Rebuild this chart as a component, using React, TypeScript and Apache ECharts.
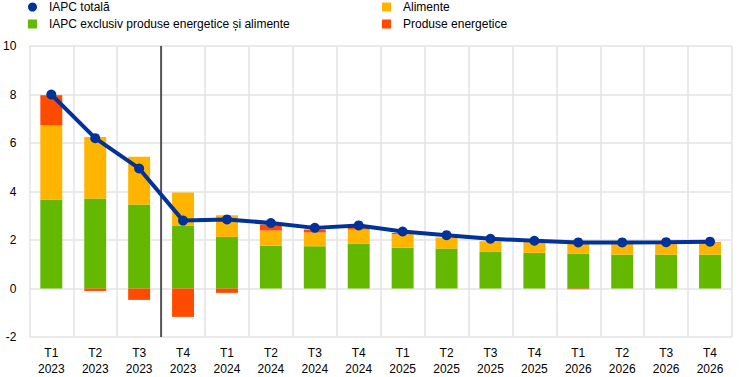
import React, { useEffect, useRef } from "react";
import * as echarts from "echarts";

const categories = [
  "T1\n2023", "T2\n2023", "T3\n2023", "T4\n2023",
  "T1\n2024", "T2\n2024", "T3\n2024", "T4\n2024",
  "T1\n2025", "T2\n2025", "T3\n2025", "T4\n2025",
  "T1\n2026", "T2\n2026", "T3\n2026", "T4\n2026",
];
const coreValues = [3.67, 3.71, 3.46, 2.58, 2.13, 1.76, 1.74, 1.84, 1.68, 1.65, 1.51, 1.47, 1.43, 1.4, 1.4, 1.4];
const foodValues = [3.06, 2.54, 1.97, 1.38, 0.89, 0.63, 0.57, 0.59, 0.56, 0.45, 0.44, 0.44, 0.41, 0.43, 0.43, 0.5];
const energyValues = [1.24, -0.1, -0.47, -1.17, -0.18, 0.25, 0.12, 0.09, 0.05, 0, 0, 0, -0.03, 0, 0, 0.02];
const headlineValues = [8.0, 6.2, 4.95, 2.8, 2.85, 2.7, 2.5, 2.6, 2.35, 2.2, 2.05, 1.97, 1.9, 1.9, 1.91, 1.93];
const dividerPosition = 2.5;
const yMin = -2;
const yMax = 10;
const yInterval = 2;

const NAME_HEADLINE = "IAPC totală";
const NAME_CORE = "IAPC exclusiv produse energetice și alimente";
const NAME_FOOD = "Alimente";
const NAME_ENERGY = "Produse energetice";

const FONT = "Liberation Sans, Arial, sans-serif";

export default function App() {
  const ref = useRef<HTMLDivElement>(null);
  useEffect(() => {
    document.body.style.margin = "0";
    const chart = echarts.init(ref.current!, null, { renderer: "svg" });
    const legendBase = {
      orient: "vertical" as const,
      itemWidth: 9,
      itemHeight: 9,
      selectedMode: false,
      textStyle: { fontSize: 12, color: "#000", fontFamily: FONT, padding: [0, 0, 0, 7], lineHeight: 14 },
      padding: 0,
    };
    chart.setOption({
      animation: false,
      textStyle: { fontFamily: FONT },
      legend: [
        { ...legendBase, left: 28, top: 0, data: [{ name: NAME_HEADLINE, icon: "circle" }] },
        { ...legendBase, left: 28, top: 17, data: [{ name: NAME_CORE, icon: "rect" }] },
        { ...legendBase, left: 382, top: 0, data: [{ name: NAME_FOOD, icon: "rect" }] },
        { ...legendBase, left: 382, top: 17, data: [{ name: NAME_ENERGY, icon: "rect" }] },
      ],
      grid: { left: 27, right: 12, top: 46, bottom: 40, containLabel: false },
      xAxis: [
        {
          type: "category",
          data: categories,
          boundaryGap: true,
          axisLine: { show: false },
          axisTick: { show: false },
          axisLabel: { color: "#000", fontSize: 12, lineHeight: 16, margin: 8, interval: 0, fontFamily: FONT },
          splitLine: { show: true, interval: 0, lineStyle: { color: "#e3e3e3", width: 1.5 } },
        },
        { type: "value", min: -0.5, max: 15.5, show: false },
      ],
      yAxis: {
        type: "value",
        min: yMin,
        max: yMax,
        interval: yInterval,
        axisLine: { show: false },
        axisTick: { show: false },
        axisLabel: { color: "#000", fontSize: 12, margin: 13, fontFamily: FONT },
        splitLine: { show: true, lineStyle: { color: "#e3e3e3", width: 1.5 } },
      },
      series: [
        {
          name: "divider",
          type: "line",
          xAxisIndex: 1,
          data: [[dividerPosition, yMin], [dividerPosition, yMax]],
          showSymbol: false,
          silent: true,
          lineStyle: { color: "#555", width: 2 },
          z: 1,
        },
        {
          name: NAME_CORE,
          type: "bar",
          stack: "c",
          data: coreValues,
          barWidth: "50%",
          itemStyle: { color: "#65b800" },
          z: 2,
        },
        {
          name: NAME_FOOD,
          type: "bar",
          stack: "c",
          data: foodValues,
          barWidth: "50%",
          itemStyle: { color: "#ffb400" },
          z: 2,
        },
        {
          name: NAME_ENERGY,
          type: "bar",
          stack: "c",
          data: energyValues,
          barWidth: "50%",
          itemStyle: { color: "#ff4b00" },
          z: 2,
        },
        {
          name: NAME_HEADLINE,
          type: "line",
          data: headlineValues,
          symbol: "circle",
          symbolSize: 10,
          itemStyle: { color: "#003299" },
          lineStyle: { color: "#003299", width: 4 },
          z: 3,
        },
      ],
    });
    return () => chart.dispose();
  }, []);
  return <div ref={ref} style={{ width: 744, height: 377 }} />;
}
